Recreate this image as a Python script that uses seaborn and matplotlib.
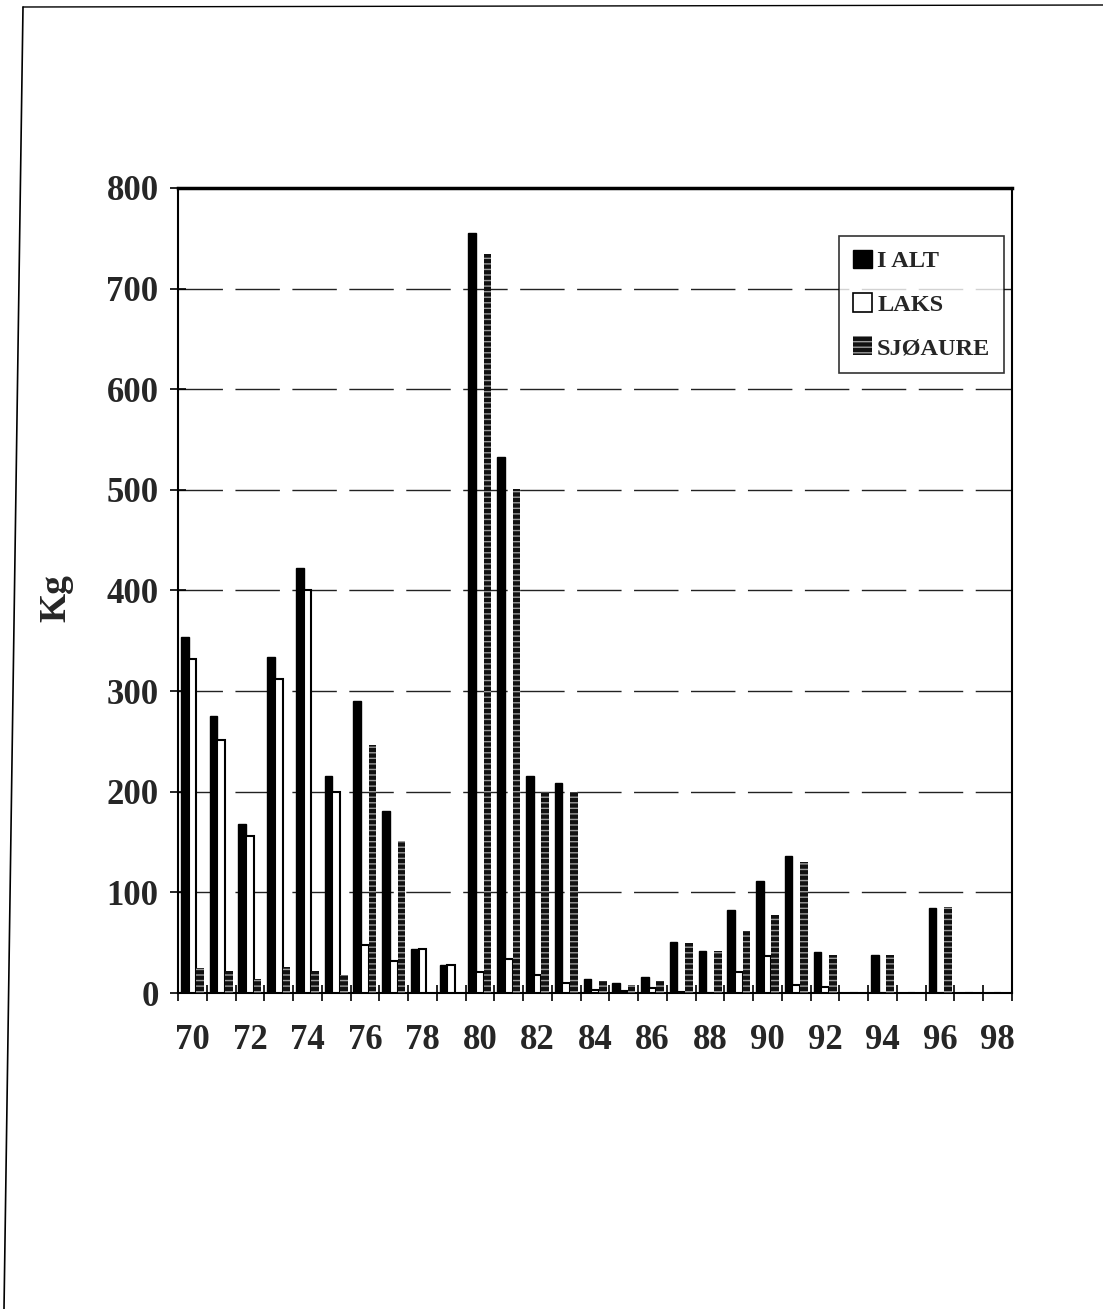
import pandas as pd
import matplotlib.pyplot as plt
import seaborn as sns
from matplotlib.lines import Line2D

# Fangst per aar (kg), lest av figuren
years = list(range(70, 99))
ialt = [354, 275, 168, 334, 422, 216, 290, 181, 44, 28,
        755, 533, 216, 209, 14, 10, 16, 51, 42, 82,
        111, 136, 41, 0, 38, 0, 84, 0, 0]
laks = [332, 251, 156, 312, 400, 200, 48, 32, 44, 28,
        21, 34, 18, 10, 3, 2, 5, 1, 0, 21,
        37, 8, 6, 0, 0, 0, 0, 0, 0]
sjoaure = [25, 22, 14, 26, 22, 18, 246, 151, 0, 0,
           734, 501, 200, 200, 12, 8, 12, 50, 42, 62,
           78, 130, 38, 0, 38, 0, 85, 0, 0]
series = ["I ALT", "LAKS", "SJØAURE"]
xlabels = [str(y) if y % 2 == 0 else "" for y in years]

df = pd.DataFrame({
    "year": years * 3,
    "kg": ialt + laks + sjoaure,
    "serie": [series[0]] * len(years) + [series[1]] * len(years) + [series[2]] * len(years),
})

sns.set_style("white")
plt.rcParams["font.family"] = ["Liberation Serif", "DejaVu Serif"]
plt.rcParams["font.weight"] = "bold"
plt.rcParams["hatch.linewidth"] = 1.0

fig = plt.figure(figsize=(11.03, 13.09), dpi=100)
ax = fig.add_axes([0.1614, 0.2414, 0.7561, 0.6150])

sns.barplot(data=df, x="year", y="kg", hue="serie", order=years, hue_order=series,
            palette=["black", "white", "#111111"], width=0.8, saturation=1,
            ax=ax, legend=False)

# stil per serie
for cont, s in zip(ax.containers, series):
    for p in cont:
        if s == "I ALT":
            p.set_edgecolor("black")
            p.set_linewidth(1)
        elif s == "LAKS":
            p.set_edgecolor("black")
            p.set_linewidth(1.5)
        else:
            p.set_facecolor("#111111")
            p.set_edgecolor("#9a9a9a")
            p.set_hatch("---")
            p.set_linewidth(0)
        p.set_zorder(3)

ax.set_ylim(0, 800)
ax.set_xlim(-0.5, len(years) - 0.5)
ax.set_yticks(range(0, 801, 100))
ax.set_xticks(range(len(years)))
ax.set_xticklabels(xlabels)
ax.set_xticks([i - 0.5 for i in range(len(years) + 1)], minor=True)
ax.tick_params(axis="x", which="major", length=0, pad=22, labelsize=25)
ax.tick_params(axis="x", which="minor", direction="inout", length=12, width=1.2, color="black", bottom=True)
ax.tick_params(axis="y", direction="inout", length=12, width=1.2, color="black", left=True, pad=8, labelsize=25)
for lab in ax.get_xticklabels() + ax.get_yticklabels():
    lab.set_fontweight("bold")

ax.yaxis.grid(True, color="#222222", linewidth=1, linestyle=(0, (32, 9)))
ax.set_axisbelow(True)
for side, sp in ax.spines.items():
    sp.set_color("black")
    sp.set_linewidth(1.5)
ax.spines["top"].set_linewidth(2.5)

ax.set_xlabel("")
ax.set_ylabel("Kg", fontsize=27, fontweight="bold")
ax.yaxis.set_label_coords(-0.125, 0.49)

handles = [
    plt.Rectangle((0, 0), 1, 1, facecolor="black", edgecolor="black"),
    plt.Rectangle((0, 0), 1, 1, facecolor="white", edgecolor="black", linewidth=1.2),
    plt.Rectangle((0, 0), 1, 1, facecolor="#111111", edgecolor="#9a9a9a", hatch="---", linewidth=0),
]
leg = ax.legend(handles, series, loc="upper right", bbox_to_anchor=(0.99, 0.94),
                borderaxespad=0, fancybox=False, frameon=True, edgecolor="black",
                prop={"family": "Liberation Serif", "weight": "bold", "size": 17.5},
                handlelength=0.8, handleheight=0.8, handletextpad=0.2,
                labelspacing=0.85, borderpad=0.55)
leg.get_frame().set_linewidth(1.2)

# sidekant fra skannet
fig.add_artist(Line2D([23 / 1103, 4 / 1103], [1 - 7 / 1309, 0], transform=fig.transFigure,
                      color="black", linewidth=1.2))
fig.add_artist(Line2D([23 / 1103, 1], [1 - 7 / 1309, 1 - 5 / 1309], transform=fig.transFigure,
                      color="black", linewidth=1))

fig.savefig("out.png", dpi=100)
